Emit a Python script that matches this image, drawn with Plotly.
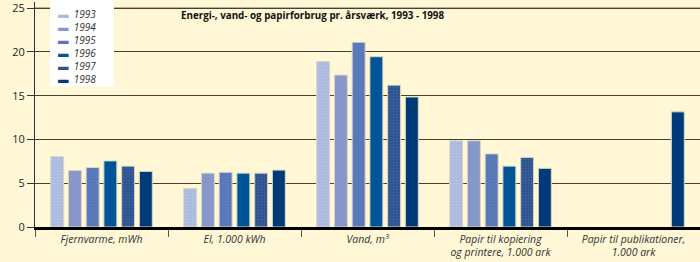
import plotly.graph_objects as go

categories = [
    "Fjernvarme, mWh",
    "El, 1.000 kWh",
    "Vand, m³",
    "Papir til kopiering<br>og printere, 1.000 ark",
    "Papir til publikationer,<br>1.000 ark",
]
years = ["1993", "1994", "1995", "1996", "1997", "1998"]
values = {
    "1993": [8.05, 4.4, 18.9, 9.85, None],
    "1994": [6.45, 6.15, 17.35, 9.85, None],
    "1995": [6.8, 6.25, 21.1, 8.35, None],
    "1996": [7.55, 6.15, 19.45, 6.95, None],
    "1997": [6.95, 6.15, 16.2, 7.95, None],
    "1998": [6.35, 6.5, 14.85, 6.7, 13.15],
}
colors = ["#AABADF", "#8797C9", "#5777B9", "#005498", "#2D5491", "#003A78"]
patterned = {"1993": "#C4CFE8", "1995": "#6A88C4", "1997": "#5A7AAE"}
y_ticks = [0, 5, 10, 15, 20, 25]

bg = "#FFF7D6"
grid = "#4A3E30"
PLOT_W, PLOT_H = 665, 227

fig = go.Figure()
for y, c in zip(years, colors):
    marker = dict(color=c, line=dict(color="#D9D6C2", width=1))
    if y in patterned:
        marker["pattern"] = dict(shape=".", fgcolor=patterned[y], size=3, solidity=0.25)
    fig.add_trace(go.Bar(name=y, x=categories, y=values[y], marker=marker, showlegend=False))

# top gridline (plotly drops it so close to the edge)
fig.add_hline(y=25, line=dict(color=grid, width=1), layer="below")

# legend box (white panel) with entries built from the years/colours lists
fig.add_shape(type="rect", xref="paper", yref="paper",
              x0=(50 - 35) / PLOT_W, x1=(114 - 35) / PLOT_W,
              y0=1 - 85 / PLOT_H, y1=1.01,
              fillcolor="white", line=dict(width=0), layer="above")
legend_text = "<br>".join(
    f"<span style='color:{c};font-size:10.5px'>▬</span>  <i>{y}</i>"
    for y, c in zip(years, colors)
)
fig.add_annotation(
    xref="paper", yref="paper",
    x=(56 - 35) / PLOT_W, xanchor="left",
    y=1 - 45 / PLOT_H, yanchor="middle", align="left",
    text=legend_text, showarrow=False,
    font=dict(size=10, color="#333", family="Open Sans"),
)

fig.update_layout(
    width=700, height=262,
    margin=dict(l=35, r=0, t=0, b=35),
    paper_bgcolor=bg, plot_bgcolor=bg,
    barmode="group", bargap=0.2, bargroupgap=0.27,
    font=dict(family="Open Sans", size=11, color="#222"),
    title=dict(
        text="<b>Energi-, vand- og papirforbrug pr. årsværk, 1993 - 1998</b>",
        x=(181 - 35) / PLOT_W, xanchor="left", xref="paper",
        y=1 - 16 / 262, yanchor="middle",
        font=dict(size=9.8, color="#111", family="Open Sans"),
    ),
)
fig.update_yaxes(
    range=[0, 25.7], tickvals=y_ticks,
    showgrid=True, gridcolor=grid, gridwidth=1,
    ticks="outside", ticklen=7, tickcolor="#333",
    showline=True, linecolor="#333", linewidth=1,
    zeroline=False, tickfont=dict(size=11, color="#222"),
    ticklabeloverflow="allow",
)
fig.update_xaxes(
    showline=True, linecolor="#000", linewidth=3,
    ticks="outside", tickson="boundaries", ticklen=7, tickcolor="#555",
    tickfont=dict(size=10.5, color="#333", style="italic"),
)
fig.write_html("out.html")
